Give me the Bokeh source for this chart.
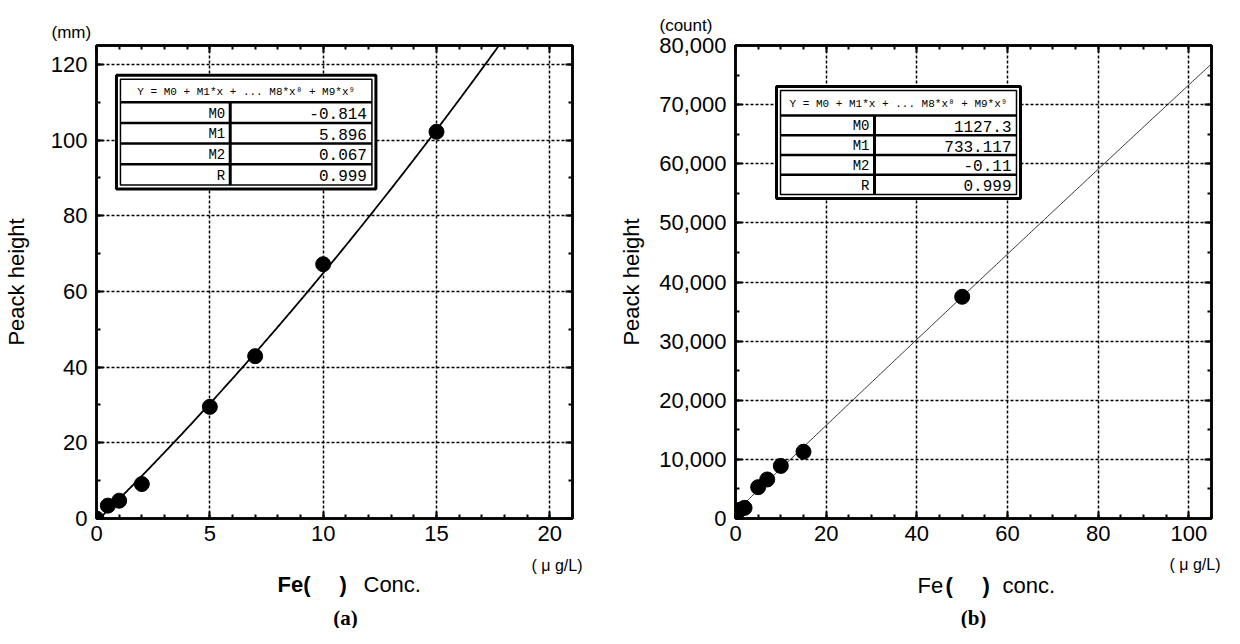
import numpy as np
from bokeh.plotting import figure
from bokeh.layouts import row, column
from bokeh.models import (LinearAxis, SingleIntervalTicker, Range1d, NumeralTickFormatter, Title)
from bokeh.core.properties import value
from bokeh.embed import file_html
from bokeh.resources import INLINE

# ---------------- data ----------------
# panel (a)
conc_a = [0, 0.5, 1, 2, 5, 7, 10, 15]
height_a = [0, 3.4, 4.7, 9.1, 29.5, 42.9, 67.2, 102.2]
coef_a = [-0.814, 5.896, 0.067]
values_a = ["-0.814", "5.896", "0.067", "0.999"]

# panel (b)
conc_b = [0, 0.5, 1, 2, 5, 7, 10, 15, 50]
height_b = [1000, 1250, 1500, 1800, 5300, 6600, 8900, 11300, 37500]
coef_b = [1127.3, 733.117, -0.11]
values_b = ["1127.3", "733.117", "-0.11", "0.999"]

row_names = ["M0", "M1", "M2", "R"]
header_text = "Y = M0 + M1*x + ... M8*x\u2078 + M9*x\u2079"

SANS = "Liberation Sans"
MONO = "Liberation Mono"
SERIF = "Liberation Serif"

MAIN_Y0, BOT_Y0, BOT_Y1 = 8, 562, 636
W_A, W_B = 600, 632
X0_A, X0_B = 8, 608


def make_panel(fig_x0, width, frame, xr, yr, xtick, xminor, ytick, yminor,
               yformat, ylabel_standoff, unit_text, unit_left, unit_standoff):
    FL, FR, FT, FB = frame
    p = figure(width=width, height=BOT_Y0 - MAIN_Y0, x_range=Range1d(*xr),
               y_range=Range1d(*yr), output_backend="svg", toolbar_location=None,
               min_border_left=FL - fig_x0, min_border_right=fig_x0 + width - FR,
               min_border_top=FT - MAIN_Y0, min_border_bottom=BOT_Y0 - FB,
               background_fill_color="white", border_fill_color="white")
    p.title = Title(text=unit_text, align="left", offset=unit_left - FL,
                    standoff=unit_standoff, text_font=SANS, text_font_size="17px",
                    text_font_style="normal", text_color="black")
    p.outline_line_color = "black"
    p.outline_line_width = 2.5

    xt = SingleIntervalTicker(interval=xtick, num_minor_ticks=xminor)
    yt = SingleIntervalTicker(interval=ytick, num_minor_ticks=yminor)
    p.xaxis.ticker = xt
    p.yaxis.ticker = yt
    p.xgrid.ticker = xt
    p.ygrid.ticker = yt
    if yformat:
        p.yaxis.formatter = NumeralTickFormatter(format=yformat)
    top_ax = LinearAxis(ticker=xt)
    right_ax = LinearAxis(ticker=yt)
    p.add_layout(top_ax, "above")
    p.add_layout(right_ax, "right")
    for ax in [p.below[0], p.left[0], top_ax, right_ax]:
        ax.axis_line_width = 2.5
        ax.axis_line_color = "black"
        ax.major_tick_in = 7
        ax.major_tick_out = 0
        ax.minor_tick_in = 4
        ax.minor_tick_out = 0
        ax.major_tick_line_width = 2
        ax.minor_tick_line_width = 2
        ax.major_tick_line_color = "black"
        ax.minor_tick_line_color = "black"
        ax.major_label_text_font = SANS
        ax.major_label_text_font_size = "22px"
        ax.major_label_text_color = "black"
        ax.major_label_standoff = 9
    for ax in [top_ax, right_ax]:
        ax.major_label_text_font_size = "1px"
        ax.major_label_text_color = None
        ax.major_label_standoff = 0
    p.below[0].major_label_standoff = 7
    yl = p.left[0]
    yl.axis_label = "Peack height"
    yl.axis_label_text_font = SANS
    yl.axis_label_text_font_style = "normal"
    yl.axis_label_text_font_size = "22px"
    yl.axis_label_text_color = "black"
    yl.axis_label_standoff = ylabel_standoff

    for g in [p.xgrid, p.ygrid]:
        g.grid_line_color = "black"
        g.grid_line_dash = "3 2"
        g.grid_line_width = 1.5

    def conv(px, py):
        x = xr[0] + (px - FL) / (FR - FL) * (xr[1] - xr[0])
        y = yr[0] + (FB - py) / (FB - FT) * (yr[1] - yr[0])
        return x, y
    return p, conv


def make_strip(fig_x0, width, y0, y1):
    s = figure(width=width, height=y1 - y0, x_range=Range1d(fig_x0, fig_x0 + width),
               y_range=Range1d(y1, y0), output_backend="svg", toolbar_location=None,
               x_axis_type=None, y_axis_type=None, min_border=0,
               background_fill_color="white", border_fill_color="white")
    s.outline_line_color = None
    s.xgrid.visible = False
    s.ygrid.visible = False
    return s


def put_text(s, px, py, text, size="22px", font=SANS, style="normal", align="left"):
    s.text(x=[px], y=[py], text=[text], text_font=value(font), text_font_size=size,
           text_font_style=style, text_align=align, text_baseline="middle",
           text_color="black")


def fit_line(p, coef, x0, x1, lw):
    xs = np.linspace(x0, x1, 300)
    ys = coef[0] + coef[1] * xs + coef[2] * xs ** 2
    p.line(xs, ys, line_color="black", line_width=lw)


def draw_table(p, conv, left, right, top, bottom, divider, header_bottom, values):
    inset = 4
    ol, ot = conv(left, top)
    orr, ob = conv(right, bottom)
    p.quad(left=[ol], right=[orr], top=[ot], bottom=[ob], fill_color="white",
           line_color="black", line_width=3)
    il, it = conv(left + inset, top + inset)
    ir, ib = conv(right - inset, bottom - inset)
    p.quad(left=[il], right=[ir], top=[it], bottom=[ib], fill_color=None,
           line_color="black", line_width=1.5)
    n = len(values)
    row_h = (bottom - inset - header_bottom) / n
    ys_px = [header_bottom + k * row_h for k in range(n)]
    x0s, y0s, x1s, y1s = [], [], [], []
    for ypx in ys_px:
        a = conv(left + inset, ypx)
        b = conv(right - inset, ypx)
        x0s.append(a[0]); y0s.append(a[1]); x1s.append(b[0]); y1s.append(b[1])
    p.segment(x0=x0s, y0=y0s, x1=x1s, y1=y1s, line_color="black", line_width=2.5)
    d0 = conv(divider, header_bottom)
    d1 = conv(divider, bottom - inset)
    p.segment(x0=[d0[0]], y0=[d0[1]], x1=[d1[0]], y1=[d1[1]], line_color="black", line_width=3)
    hx, hy = conv((left + right) / 2, (top + inset + header_bottom) / 2 + 1)
    p.text(x=[hx], y=[hy], text=[header_text], text_font=value(MONO),
           text_font_size="11px", text_align="center", text_baseline="middle",
           text_color="black")
    lx = [conv(divider - 5, 0)[0]] * n
    vx = [conv(right - inset - 5, 0)[0]] * n
    cy = [conv(0, y + row_h / 2 + 1)[1] for y in ys_px]
    p.text(x=lx, y=cy, text=row_names, text_font=value(MONO), text_font_size="14px",
           text_align="right", text_baseline="middle", text_color="black")
    p.text(x=vx, y=cy, text=values, text_font=value(MONO), text_font_size="16px",
           text_align="right", text_baseline="middle", text_color="black")


# ---------------- panel (a) ----------------
pa, ca = make_panel(X0_A, W_A, (103, 580, 51, 526), (0, 21), (0, 125),
                    5, 5, 20, 2, None, 19, "(mm)", 58, 8)
fit_line(pa, coef_a, 0, 21, 1.8)
pa.scatter(conc_a, height_a, marker="circle", size=15, color="black")
draw_table(pa, ca, 123, 383, 81, 195, 237, 108, values_a)

ba = make_strip(X0_A, W_A, BOT_Y0, BOT_Y1)
put_text(ba, 539, 573, "( \u03bc g/L)", size="16px")
put_text(ba, 285, 592, "Fe(", style="bold")
put_text(ba, 347, 592, ")", style="bold")
put_text(ba, 371, 592, "Conc.")
put_text(ba, 353, 625, "(a)", size="21px", font=SERIF, style="bold", align="center")

# ---------------- panel (b) ----------------
pb, cb = make_panel(X0_B, W_B, (743, 1219, 53, 526), (0, 105), (0, 80000),
                    20, 4, 10000, 2, "0,0", 12, "(count)", 667, 22)
fit_line(pb, coef_b, 0, 105, 0.8)
pb.scatter(conc_b, height_b, marker="circle", size=15, color="black")
draw_table(pb, cb, 784, 1028, 94, 206, 882, 123, values_b)

bb = make_strip(X0_B, W_B, BOT_Y0, BOT_Y1)
put_text(bb, 1177, 572, "( \u03bc g/L)", size="16px")
put_text(bb, 925, 593, "Fe")
put_text(bb, 953, 593, "(", style="bold")
put_text(bb, 990, 593, ")", style="bold")
put_text(bb, 1010, 593, "conc.")
put_text(bb, 981, 625, "(b)", size="21px", font=SERIF, style="bold", align="center")

layout = column(row(pa, pb), row(ba, bb))
open("out.html", "w").write(file_html(layout, INLINE))
